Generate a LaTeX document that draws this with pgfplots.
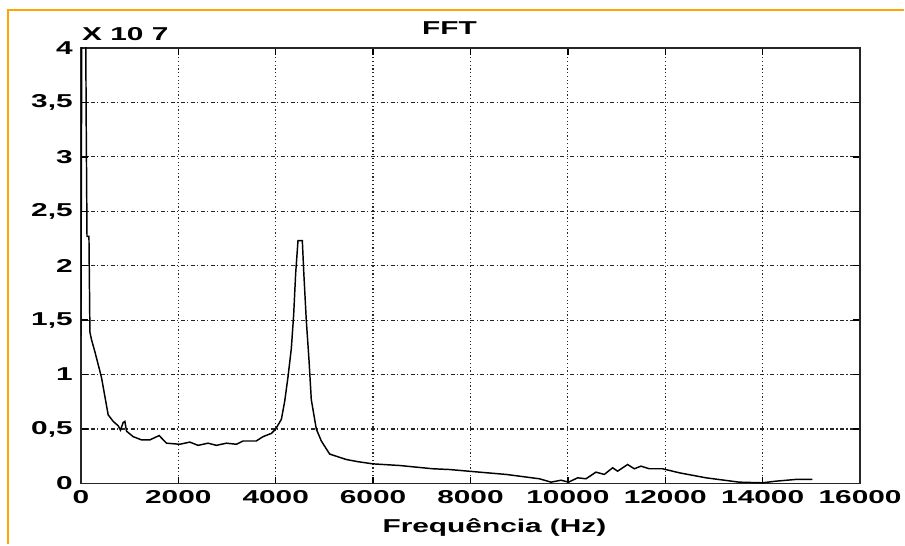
\documentclass[border=0pt]{standalone}
\usepackage{fontspec}
\setmainfont{Liberation Sans}[FakeStretch=1.6]
\usepackage{pgfplots}
\pgfplotsset{compat=1.18}
\definecolor{frameorange}{RGB}{255,165,0}

\begin{document}
\begin{tikzpicture}
\path (0,0) rectangle (678.75pt,408.75pt);
\draw[frameorange,line width=1.5pt] (6pt,0) -- (6pt,401.25pt) -- (678.75pt,401.25pt);
\begin{axis}[
  at={(60.75pt,45.75pt)}, anchor=south west,
  scale only axis,
  width=585pt, height=327pt,
  xmin=0, xmax=16000,
  ymin=0, ymax=4,
  scaled x ticks=false, scaled y ticks=false,
  xtick={0,2000,4000,6000,8000,10000,12000,14000,16000},
  xticklabels={0,2000,4000,6000,8000,10000,12000,14000,16000},
  ytick={0,0.5,1,1.5,2,2.5,3,3.5,4},
  yticklabels={0,{0,5},1,{1,5},2,{2,5},3,{3,5},4},
  tick label style={font=\bfseries\fontsize{14}{14}\selectfont},
  xticklabel style={inner sep=0pt,yshift=-5pt},
  yticklabel style={inner sep=0pt,xshift=-6pt},
  tick align=inside,
  major tick length=5pt,
  tick style={black,line width=1.1pt},
  axis line style={black!85,line width=1.1pt},
  grid=major,
  major x grid style={black!85,line width=0.9pt,dash pattern=on 0.9pt off 1.9pt},
  major y grid style={black!85,line width=0.9pt,dash pattern=on 3pt off 1.8pt on 0.9pt off 1.8pt},
]
\addplot[black,line width=1.1pt] coordinates {
  (0,1.35) (20,4.5) (95,4.5) (108,3.36) (125,2.27) (165,2.27) (185,1.39)
  (218,1.32) (287,1.21) (356,1.09) (424,0.97) (492,0.80) (560,0.63)
  (663,0.57) (766,0.53) (813,0.49) (868,0.56) (903,0.57) (937,0.48)
  (1073,0.43) (1245,0.40) (1415,0.40) (1607,0.44) (1757,0.37) (2031,0.36)
  (2236,0.38) (2406,0.35) (2611,0.37) (2782,0.35) (2988,0.37) (3193,0.36)
  (3330,0.39) (3600,0.39) (3740,0.43) (3912,0.46) (4000,0.50) (4117,0.59)
  (4185,0.755) (4253,0.98) (4321,1.24) (4369,1.55) (4410,1.93) (4458,2.23)
  (4547,2.23) (4574,1.96) (4628,1.50) (4683,1.14) (4731,0.77) (4834,0.50)
  (4937,0.39) (5108,0.27) (5450,0.22) (5689,0.20) (5996,0.18) (6544,0.165)
  (7227,0.135) (7570,0.128) (8185,0.104) (8732,0.083) (9415,0.043)
  (9655,0.012) (9860,0.03) (10015,0.012) (10200,0.052) (10372,0.043)
  (10577,0.104) (10748,0.083) (10919,0.144) (11022,0.113) (11227,0.174)
  (11364,0.135) (11501,0.159) (11672,0.135) (11945,0.135) (12287,0.098)
  (12835,0.052) (13518,0.012) (13996,0.006) (14270,0.021) (14680,0.037)
  (15022,0.037)};
\end{axis}
\node[anchor=base west,inner sep=0pt,font=\bfseries\fontsize{14}{14}\selectfont] at (61.5pt,378pt) {X 10 7};
\node[anchor=base,inner sep=0pt,font=\bfseries\fontsize{14}{14}\selectfont] at (337.5pt,382.5pt) {FFT};
\node[anchor=base,inner sep=0pt,font=\bfseries\fontsize{14}{14}\selectfont] at (371.25pt,9pt) {Frequência (Hz)};
\end{tikzpicture}
\end{document}
